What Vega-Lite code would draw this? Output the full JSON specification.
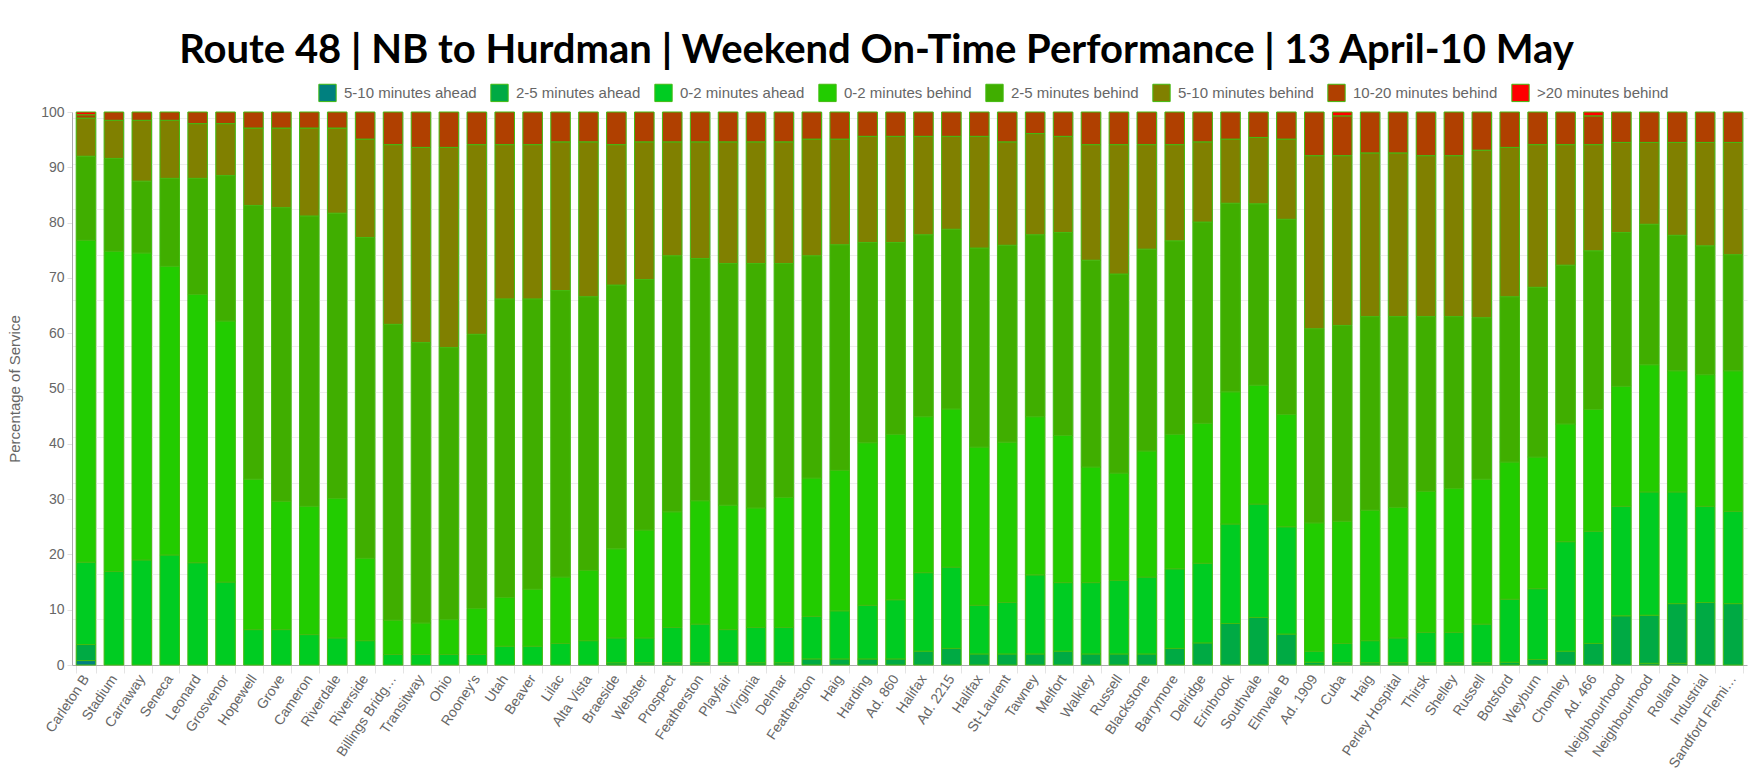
{
  "$schema": "https://vega.github.io/schema/vega-lite/v6.json",
  "width": 1675,
  "height": 553,
  "autosize": {"type": "none"},
  "padding": {"left": 72, "top": 112, "right": 5, "bottom": 110},
  "background": "white",
  "title": {
    "text": "Route 48 | NB to Hurdman | Weekend On-Time Performance | 13 April-10 May",
    "font": "Lato",
    "fontWeight": "bold",
    "fontSize": 40,
    "color": "#000000",
    "anchor": "middle",
    "dx": -33,
    "offset": 12
  },
  "data": {
    "values": [
      {"s": "01 Carleton B", "a": 0.8, "b": 2.9, "c": 14.9, "d": 58.2, "e": 15.2, "f": 6.9, "g": 0.6, "h": 0.5},
      {"s": "02 Stadium", "a": 0, "b": 0, "c": 16.9, "d": 57.9, "e": 16.8, "f": 6.9, "g": 1.5, "h": 0},
      {"s": "03 Carraway", "a": 0, "b": 0, "c": 19.0, "d": 55.5, "e": 13.0, "f": 11.0, "g": 1.5, "h": 0},
      {"s": "04 Seneca", "a": 0, "b": 0, "c": 19.9, "d": 52.2, "e": 15.9, "f": 10.5, "g": 1.5, "h": 0},
      {"s": "05 Leonard", "a": 0, "b": 0, "c": 18.5, "d": 48.5, "e": 21.0, "f": 9.9, "g": 2.1, "h": 0},
      {"s": "06 Grosvenor", "a": 0, "b": 0, "c": 15.0, "d": 47.2, "e": 26.3, "f": 9.4, "g": 2.1, "h": 0},
      {"s": "07 Hopewell", "a": 0, "b": 0, "c": 6.4, "d": 27.2, "e": 49.5, "f": 14.0, "g": 2.9, "h": 0},
      {"s": "08 Grove", "a": 0, "b": 0, "c": 6.4, "d": 23.2, "e": 53.1, "f": 14.4, "g": 2.9, "h": 0},
      {"s": "09 Cameron", "a": 0, "b": 0, "c": 5.5, "d": 23.2, "e": 52.5, "f": 15.9, "g": 2.9, "h": 0},
      {"s": "10 Riverdale", "a": 0, "b": 0, "c": 4.9, "d": 25.2, "e": 51.6, "f": 15.4, "g": 2.9, "h": 0},
      {"s": "11 Riverside", "a": 0, "b": 0, "c": 4.4, "d": 14.9, "e": 58.0, "f": 17.8, "g": 4.9, "h": 0},
      {"s": "12 Bank", "a": 0, "b": 0, "c": 0, "d": 0, "e": 0, "f": 0, "g": 0, "h": 0},
      {"s": "13 Billings Bridg…", "a": 0, "b": 0, "c": 1.9, "d": 6.2, "e": 53.5, "f": 32.5, "g": 5.9, "h": 0},
      {"s": "14 Transitway", "a": 0, "b": 0, "c": 1.9, "d": 5.7, "e": 50.7, "f": 35.3, "g": 6.4, "h": 0},
      {"s": "15 Ohio", "a": 0, "b": 0, "c": 1.9, "d": 6.3, "e": 49.2, "f": 36.2, "g": 6.4, "h": 0},
      {"s": "16 Rooney's", "a": 0, "b": 0, "c": 1.9, "d": 8.3, "e": 49.6, "f": 34.3, "g": 5.9, "h": 0},
      {"s": "17 Utah", "a": 0, "b": 0, "c": 3.4, "d": 8.8, "e": 54.0, "f": 27.9, "g": 5.9, "h": 0},
      {"s": "18 Beaver", "a": 0, "b": 0, "c": 3.4, "d": 10.3, "e": 52.5, "f": 27.9, "g": 5.9, "h": 0},
      {"s": "19 Lilac", "a": 0, "b": 0, "c": 3.9, "d": 12.0, "e": 51.8, "f": 26.9, "g": 5.4, "h": 0},
      {"s": "20 Alta Vista", "a": 0, "b": 0, "c": 4.4, "d": 12.7, "e": 49.5, "f": 28.0, "g": 5.4, "h": 0},
      {"s": "21 Braeside", "a": 0, "b": 0.4, "c": 4.5, "d": 16.1, "e": 47.7, "f": 25.4, "g": 5.9, "h": 0},
      {"s": "22 Webster", "a": 0, "b": 0.4, "c": 4.5, "d": 19.5, "e": 45.3, "f": 24.9, "g": 5.4, "h": 0},
      {"s": "23 Prospect", "a": 0, "b": 0.4, "c": 6.4, "d": 20.9, "e": 46.3, "f": 20.6, "g": 5.4, "h": 0},
      {"s": "24 Featherston", "a": 0, "b": 0.4, "c": 7.0, "d": 22.3, "e": 43.8, "f": 21.1, "g": 5.4, "h": 0},
      {"s": "25 Playfair", "a": 0, "b": 0.4, "c": 6.0, "d": 22.5, "e": 43.7, "f": 22.0, "g": 5.4, "h": 0},
      {"s": "26 Virginia", "a": 0, "b": 0.4, "c": 6.4, "d": 21.6, "e": 44.2, "f": 22.0, "g": 5.4, "h": 0},
      {"s": "27 Delmar", "a": 0, "b": 0.4, "c": 6.4, "d": 23.5, "e": 42.3, "f": 22.0, "g": 5.4, "h": 0},
      {"s": "28 Featherston", "a": 0, "b": 1.1, "c": 7.7, "d": 25.0, "e": 40.2, "f": 21.1, "g": 4.9, "h": 0},
      {"s": "29 Haig", "a": 0, "b": 1.1, "c": 8.7, "d": 25.4, "e": 40.8, "f": 19.1, "g": 4.9, "h": 0},
      {"s": "30 Harding", "a": 0, "b": 1.1, "c": 9.7, "d": 29.4, "e": 36.2, "f": 19.2, "g": 4.4, "h": 0},
      {"s": "31 Ad. 860", "a": 0, "b": 1.1, "c": 10.7, "d": 29.9, "e": 34.7, "f": 19.2, "g": 4.4, "h": 0},
      {"s": "32 Halifax", "a": 0, "b": 2.5, "c": 14.2, "d": 28.2, "e": 32.9, "f": 17.8, "g": 4.4, "h": 0},
      {"s": "33 Ad. 2215", "a": 0, "b": 3.0, "c": 14.7, "d": 28.6, "e": 32.5, "f": 16.8, "g": 4.4, "h": 0},
      {"s": "34 Halifax", "a": 0, "b": 2.0, "c": 8.8, "d": 28.6, "e": 36.0, "f": 20.2, "g": 4.4, "h": 0},
      {"s": "35 St-Laurent", "a": 0, "b": 2.0, "c": 9.3, "d": 29.0, "e": 35.6, "f": 18.7, "g": 5.4, "h": 0},
      {"s": "36 Tawney", "a": 0, "b": 2.0, "c": 14.3, "d": 28.6, "e": 32.9, "f": 18.3, "g": 3.9, "h": 0},
      {"s": "37 Melfort", "a": 0, "b": 2.5, "c": 12.4, "d": 26.6, "e": 36.7, "f": 17.4, "g": 4.4, "h": 0},
      {"s": "38 Walkley", "a": 0, "b": 2.0, "c": 12.9, "d": 20.9, "e": 37.4, "f": 20.9, "g": 5.9, "h": 0},
      {"s": "39 Russell", "a": 0, "b": 2.0, "c": 13.3, "d": 19.4, "e": 36.0, "f": 23.4, "g": 5.9, "h": 0},
      {"s": "40 Blackstone", "a": 0, "b": 2.0, "c": 13.9, "d": 22.8, "e": 36.5, "f": 18.9, "g": 5.9, "h": 0},
      {"s": "41 Barrymore", "a": 0, "b": 3.0, "c": 14.4, "d": 24.3, "e": 35.0, "f": 17.4, "g": 5.9, "h": 0},
      {"s": "42 Delridge", "a": 0, "b": 4.0, "c": 14.4, "d": 25.3, "e": 36.4, "f": 14.5, "g": 5.4, "h": 0},
      {"s": "43 Erinbrook", "a": 0, "b": 7.5, "c": 18.0, "d": 23.9, "e": 34.1, "f": 11.6, "g": 4.9, "h": 0},
      {"s": "44 Southvale", "a": 0, "b": 8.6, "c": 20.5, "d": 21.5, "e": 32.8, "f": 12.0, "g": 4.6, "h": 0},
      {"s": "45 Elmvale B", "a": 0, "b": 5.6, "c": 19.4, "d": 20.3, "e": 35.3, "f": 14.5, "g": 4.9, "h": 0},
      {"s": "46 Ad. 1909", "a": 0, "b": 0.5, "c": 2.0, "d": 23.2, "e": 35.1, "f": 31.3, "g": 7.9, "h": 0},
      {"s": "47 Cuba", "a": 0, "b": 0.4, "c": 3.5, "d": 22.1, "e": 35.4, "f": 30.7, "g": 7.2, "h": 0.7},
      {"s": "48 Haig", "a": 0, "b": 0.4, "c": 4.0, "d": 23.6, "e": 35.0, "f": 29.6, "g": 7.4, "h": 0},
      {"s": "49 Perley Hospital", "a": 0, "b": 0.4, "c": 4.5, "d": 23.6, "e": 34.5, "f": 29.6, "g": 7.4, "h": 0},
      {"s": "50 Thirsk", "a": 0, "b": 0.4, "c": 5.5, "d": 25.5, "e": 31.6, "f": 29.1, "g": 7.9, "h": 0},
      {"s": "51 Shelley", "a": 0, "b": 0.4, "c": 5.5, "d": 26.0, "e": 31.1, "f": 29.1, "g": 7.9, "h": 0},
      {"s": "52 Russell", "a": 0, "b": 0.4, "c": 7.0, "d": 26.2, "e": 29.2, "f": 30.3, "g": 6.9, "h": 0},
      {"s": "53 Botsford", "a": 0, "b": 0.5, "c": 11.4, "d": 24.8, "e": 29.9, "f": 27.0, "g": 6.4, "h": 0},
      {"s": "54 Weyburn", "a": 0, "b": 1.0, "c": 12.8, "d": 23.8, "e": 30.7, "f": 25.8, "g": 5.9, "h": 0},
      {"s": "55 Chomley", "a": 0, "b": 2.5, "c": 19.8, "d": 21.3, "e": 28.7, "f": 21.8, "g": 5.9, "h": 0},
      {"s": "56 Ad. 466", "a": 0, "b": 3.9, "c": 20.3, "d": 22.0, "e": 28.7, "f": 19.2, "g": 5.2, "h": 0.7},
      {"s": "57 Neighbourhood", "a": 0, "b": 8.9, "c": 19.8, "d": 21.7, "e": 27.8, "f": 16.3, "g": 5.5, "h": 0},
      {"s": "58 Neighbourhood", "a": 0.3, "b": 8.7, "c": 22.3, "d": 23.0, "e": 25.4, "f": 14.8, "g": 5.5, "h": 0},
      {"s": "59 Rolland", "a": 0.3, "b": 10.8, "c": 20.2, "d": 21.9, "e": 24.5, "f": 16.8, "g": 5.5, "h": 0},
      {"s": "60 Industrial", "a": 0, "b": 11.3, "c": 17.4, "d": 23.8, "e": 23.3, "f": 18.7, "g": 5.5, "h": 0},
      {"s": "61 Sandford Flemi…", "a": 0, "b": 11.1, "c": 16.7, "d": 25.4, "e": 21.0, "f": 20.3, "g": 5.5, "h": 0}
    ]
  },
  "layer": [
    {
      "mark": {"type": "rule", "opacity": 0},
      "encoding": {
        "y": {
          "datum": 0,
          "type": "quantitative",
          "scale": {"domain": [0, 100]},
          "axis": {
            "orient": "right",
            "values": [8.24, 16.48, 24.72, 32.96, 41.2, 49.44, 57.68, 65.92, 74.16, 82.4, 90.64, 98.88],
            "grid": true,
            "gridColor": "#ededed",
            "labels": false,
            "ticks": false,
            "domain": false,
            "title": null
          }
        }
      }
    },
    {
      "transform": [
        {"fold": ["a", "b", "c", "d", "e", "f", "g", "h"], "as": ["k", "v"]},
        {"filter": "datum.v > 0"}
      ],
      "mark": {"type": "bar", "stroke": "#44bb11", "strokeWidth": 1},
      "encoding": {
        "x": {
          "field": "s",
          "type": "nominal",
          "sort": "ascending",
          "scale": {"paddingInner": 0.3, "paddingOuter": 0.15},
          "axis": {
            "title": null,
            "labelExpr": "substring(datum.label, 3)",
            "labelAngle": -56,
            "labelFont": "Liberation Sans",
            "labelFontSize": 14,
            "labelColor": "#666666",
            "tickBand": "extent",
            "grid": true,
            "gridColor": "#e4e4e4",
            "tickColor": "#e4e4e4",
            "tickSize": 8,
            "domainColor": "#aaaaaa",
            "labelPadding": 3
          }
        },
        "y": {
          "field": "v",
          "type": "quantitative",
          "stack": "zero",
          "scale": {"domain": [0, 100]},
          "axis": {
            "title": "Percentage of Service",
            "values": [0, 10, 20, 30, 40, 50, 60, 70, 80, 90, 100],
            "labelFont": "Liberation Sans",
            "labelFontSize": 14,
            "labelColor": "#666666",
            "titleFont": "Liberation Sans",
            "titleFontSize": 15,
            "titleFontWeight": "normal",
            "titleColor": "#666666",
            "gridColor": "#e0e0e0",
            "tickColor": "#e0e0e0",
            "tickSize": 5,
            "domainColor": "#aaaaaa",
            "labelPadding": 3,
            "titlePadding": 18
          }
        },
        "order": {"field": "k", "sort": "ascending"},
        "color": {
          "field": "k",
          "type": "nominal",
          "scale": {
            "domain": ["a", "b", "c", "d", "e", "f", "g", "h"],
            "range": ["#00807f", "#00aa44", "#00cc22", "#22cc00", "#40ae00", "#808000", "#b04000", "#ff0000"]
          },
          "legend": {
            "orient": "none",
            "legendX": 246,
            "legendY": -29,
            "direction": "horizontal",
            "title": null,
            "padding": 0,
            "symbolType": "square",
            "symbolSize": 300,
            "symbolStrokeColor": "#44bb11",
            "symbolStrokeWidth": 1,
            "symbolOpacity": 1,
            "labelFont": "Liberation Sans",
            "labelFontSize": 15,
            "labelColor": "#666666",
            "labelOffset": 7,
            "columnPadding": 11,
            "labelExpr": "['5-10 minutes ahead','2-5 minutes ahead','0-2 minutes ahead','0-2 minutes behind','2-5 minutes behind','5-10 minutes behind','10-20 minutes behind','>20 minutes behind'][indexof(['a','b','c','d','e','f','g','h'], datum.label)]"
          }
        }
      }
    }
  ],
  "resolve": {"axis": {"y": "independent"}},
  "config": {"view": {"stroke": null}}
}
